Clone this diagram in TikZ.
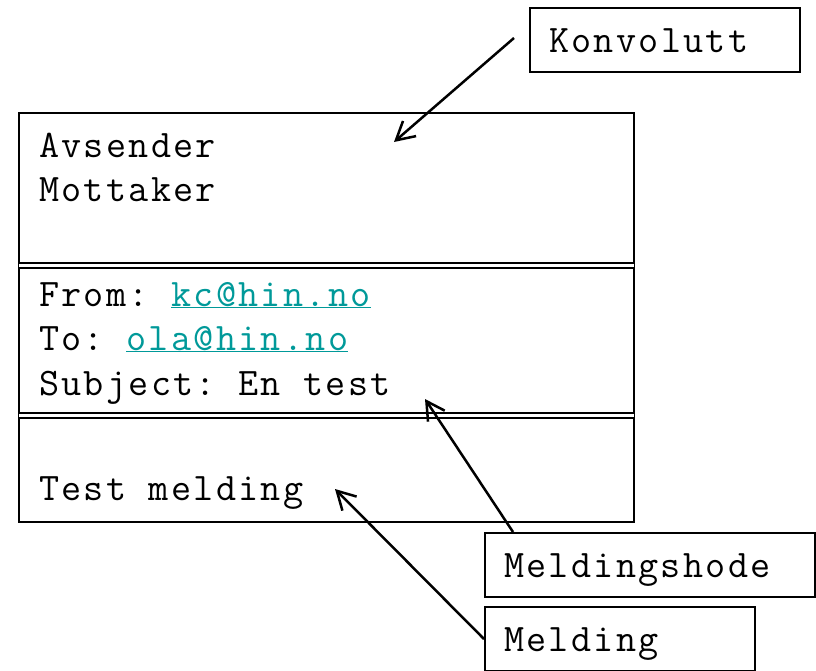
\documentclass[tikz,border=0pt]{standalone}
\usepackage{fontspec}
\setmonofont{Latin Modern Mono}[LetterSpace=6]
\usetikzlibrary{arrows.meta}

\definecolor{linkcol}{RGB}{0,153,153}
\newcommand{\maillink}[1]{\textcolor{linkcol}{\underline{#1}}}

\begin{document}
\begin{tikzpicture}[x=1pt,y=-1pt,line width=2pt,
  txt/.style={anchor=base west,inner sep=0pt,font=\ttfamily\fontsize{39}{44}\selectfont},
  lblbox/.style={txt,draw,inner xsep=19pt,inner ysep=0pt,text height=44pt,text depth=20pt,align=left},
  arr/.style={line width=2.5pt,-{Straight Barb[length=18pt,width=20pt]}}]
  \useasboundingbox (0,0) rectangle (816,670);
  % envelope with its two separators
  \coordinate (env-nw) at (19,113);
  \coordinate (env-se) at (634,522);
  \draw (env-nw) rectangle (env-se);
  \draw[double,double distance=3pt] (19,265.5) -- (634,265.5);
  \draw[double,double distance=3pt] (19,415.5) -- (634,415.5);
  \node[txt] (avs)  at (38,157) {Avsender};
  \node[txt] (mot)  at (38,201) {Mottaker};
  \node[txt] (from) at (38,306) {From: \maillink{kc@hin.no}};
  \node[txt] (to)   at (38,350) {To: \maillink{ola@hin.no}};
  \node[txt] (subj) at (38,395) {Subject: En test};
  \node[txt] (body) at (38,500) {Test melding};
  % labels
  \node[lblbox,text width=232pt] (konv) at (529,52) {Konvolutt};
  \node[lblbox,text width=292pt] (hode) at (484,577) {Meldingshode};
  \node[lblbox,text width=232pt] (meld) at (484,651) {Melding};
  \coordinate (env-pt)  at (394,142);
  \coordinate (subj-pt) at (425,399);
  \coordinate (body-pt) at (335,489);
  \draw[arr] ([shift={(-15pt,2pt)}]konv.west) -- (env-pt);
  \draw[arr] ([xshift=29pt]hode.north west) -- (subj-pt);
  \draw[arr] (meld.west) -- (body-pt);
\end{tikzpicture}
\end{document}
